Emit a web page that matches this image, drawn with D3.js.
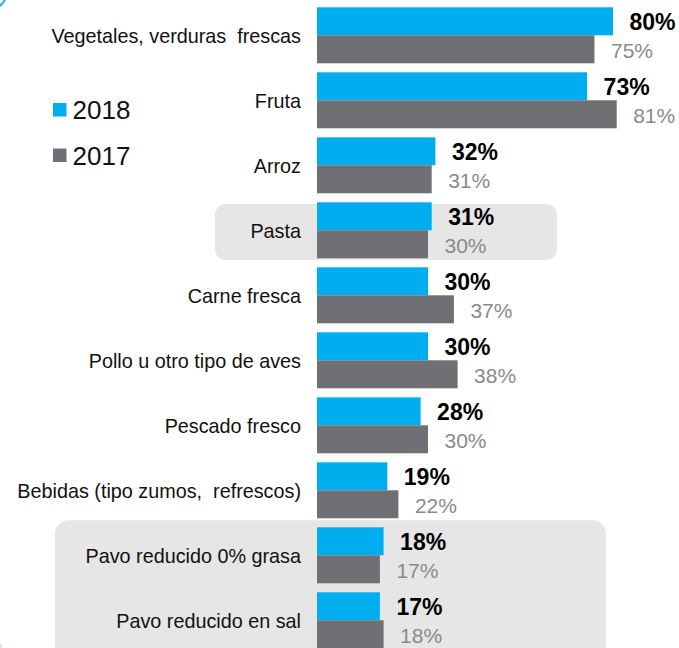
<!DOCTYPE html>
<meta charset="utf-8">
<style>
  body { margin: 0; background: #fff; }
  svg { display: block; font-family: Arial, "Liberation Sans", sans-serif; }
  .cat { font-size: 19.8px; fill: #111; text-anchor: end; white-space: pre; }
  .v18 { font-size: 23px; font-weight: bold; fill: #000; }
  .v17 { font-size: 21px; fill: #8a8a8a; }
  .legend text { font-size: 26px; fill: #111; }
</style>
<body>
<script src="https://d3js.org/d3.v7.min.js"></script>
<script>
var categories = ["Vegetales, verduras  frescas", "Fruta", "Arroz", "Pasta", "Carne fresca",
  "Pollo u otro tipo de aves", "Pescado fresco", "Bebidas (tipo zumos,  refrescos)",
  "Pavo reducido 0% grasa", "Pavo reducido en sal"];
var values2018 = [80, 73, 32, 31, 30, 30, 28, 19, 18, 17];
var values2017 = [75, 81, 31, 30, 37, 38, 30, 22, 17, 18];
var seriesNames = ["2018", "2017"];
var colors = {"2018": "#00aeef", "2017": "#707074"};

var width = 679, height = 648;

var svg = d3.select("body").append("svg")
    .attr("width", width)
    .attr("height", height);

var x = d3.scaleLinear().domain([0, 100]).range([317, 687]);
var y = d3.scaleBand().domain(categories).range([7.3, 657.3]);
var ySub = d3.scaleBand().domain(seriesNames).range([0, 56]);

// highlighted rows
svg.append("rect")
    .attr("x", 215).attr("y", y("Pasta") + 1.7)
    .attr("width", 342).attr("height", 56)
    .attr("rx", 11).attr("fill", "#e6e6e6");
svg.append("rect")
    .attr("x", 55).attr("y", y("Pavo reducido 0% grasa") - 7)
    .attr("width", 551).attr("height", 150)
    .attr("rx", 14).attr("fill", "#e6e6e6");

// small corner marks
svg.append("path").attr("d", "M0,6L5,0").attr("stroke", "#2aa7e8").attr("stroke-width", 2);
svg.append("path").attr("d", "M1,644L1,648").attr("stroke", "#9fd9f3").attr("stroke-width", 1);

var rows = categories.map(function(c, i) {
  return {cat: c, v: {"2018": values2018[i], "2017": values2017[i]}};
});

var g = svg.selectAll(".row")
    .data(rows)
  .enter().append("g")
    .attr("class", "row")
    .attr("transform", function(d) { return "translate(0," + y(d.cat) + ")"; });

g.append("text")
    .attr("class", "cat")
    .attr("xml:space", "preserve")
    .attr("x", 301)
    .attr("y", 28 + 7.5)
    .text(function(d) { return d.cat; });

seriesNames.forEach(function(s) {
  g.append("rect")
      .attr("x", x(0))
      .attr("y", ySub(s))
      .attr("width", function(d) { return x(d.v[s]) - x(0); })
      .attr("height", ySub.bandwidth())
      .attr("fill", colors[s]);

  g.append("text")
      .attr("class", s === "2018" ? "v18" : "v17")
      .attr("x", function(d) { return x(d.v[s]) + 16.5; })
      .attr("y", ySub(s) + ySub.bandwidth() / 2 + 8.6)
      .text(function(d) { return d.v[s] + "%"; });
});

// legend
var legend = svg.append("g").attr("class", "legend");
seriesNames.forEach(function(s, i) {
  legend.append("rect")
      .attr("x", 53).attr("y", 103 + i * 45.5)
      .attr("width", 13.5).attr("height", 13.5)
      .attr("fill", colors[s]);
  legend.append("text")
      .attr("x", 72.5).attr("y", 119.3 + i * 45.5)
      .text(s);
});
</script>
</body>
